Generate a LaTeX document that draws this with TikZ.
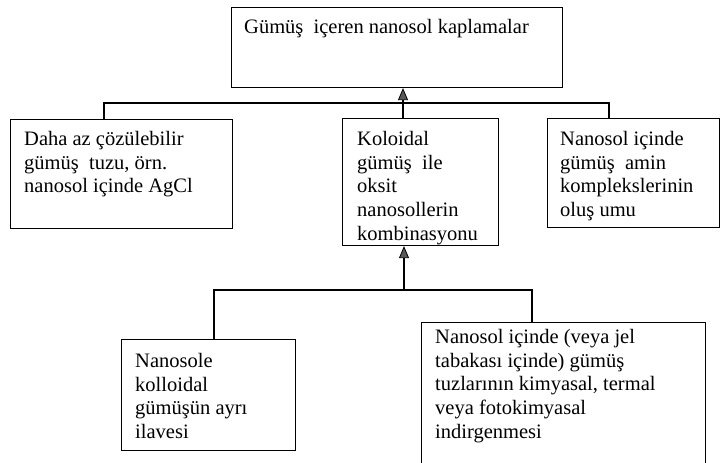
\documentclass[tikz,border=0pt]{standalone}
\usepackage{fontspec}
\setmainfont{Liberation Serif}
\usepackage{tikz}
\usetikzlibrary{arrows,arrows.meta,positioning}

\tikzset{
  kutu/.style={draw, line width=1.1pt, anchor=north west, inner sep=0pt},
  yazi/.style={anchor=north west, align=left, inner sep=0pt,
    font=\fontsize{20.5}{23.7}\selectfont},
  hat/.style={line width=1.1pt},
  ok/.style={hat, -{Triangle[length=12pt, width=10pt, line width=0.8pt, fill=black!65]}},
}

\begin{document}
\begin{tikzpicture}[x=1pt,y=-1pt]
\useasboundingbox (0,0) rectangle (723,463);
% ust kutu
\node[kutu, minimum width=331pt, minimum height=80pt] (ana) at (231,7) {};
\node[yazi] (ana-y) at (244,19) {Gümüş~ içeren nanosol kaplamalar};
% ikinci sira
\node[kutu, minimum width=222pt, minimum height=109pt] (tuz) at (10,119) {};
\node[yazi] (tuz-y) at (24,131) {Daha az çözülebilir\\gümüş~ tuzu, örn.\\nanosol içinde AgCl};
\node[kutu, minimum width=156pt, minimum height=127pt] (kolo) at (342,118) {};
\node[yazi] (kolo-y) at (357,131) {Koloidal\\gümüş~ ile\\oksit\\nanosollerin\\kombinasyonu};
\node[kutu, minimum width=172pt, minimum height=109pt] (amin) at (547,118) {};
\node[yazi] (amin-y) at (560,131) {Nanosol içinde\\gümüş~ amin\\komplekslerinin\\oluş umu};
% alt sira
\node[kutu, minimum width=174pt, minimum height=111pt] (ayri) at (121,339) {};
\node[yazi] (ayri-y) at (135,353) {Nanosole\\kolloidal\\gümüşün ayrı\\ilavesi};
\node[kutu, minimum width=284pt, minimum height=145pt] (indir) at (421,322) {};
\node[yazi] (indir-y) at (435,329) {Nanosol içinde (veya jel\\tabakası içinde) gümüş\\tuzlarının kimyasal, termal\\veya fotokimyasal\\indirgenmesi};

% baglantilar
\coordinate (b1) at (104,103); \coordinate (b2) at (609,103); \coordinate (b3) at (403,103);
\draw[hat] (tuz.north -| b1) |- (b2) -- (amin.north -| b2);
\draw[ok] (kolo.north -| b3) -- (ana.south -| b3);
\coordinate (c1) at (214,290); \coordinate (c2) at (532,290); \coordinate (c3) at (404,290);
\draw[hat] (ayri.north -| c1) |- (c2) -- (indir.north -| c2);
\draw[ok] (c3) -- (kolo.south -| c3);
\end{tikzpicture}
\end{document}
